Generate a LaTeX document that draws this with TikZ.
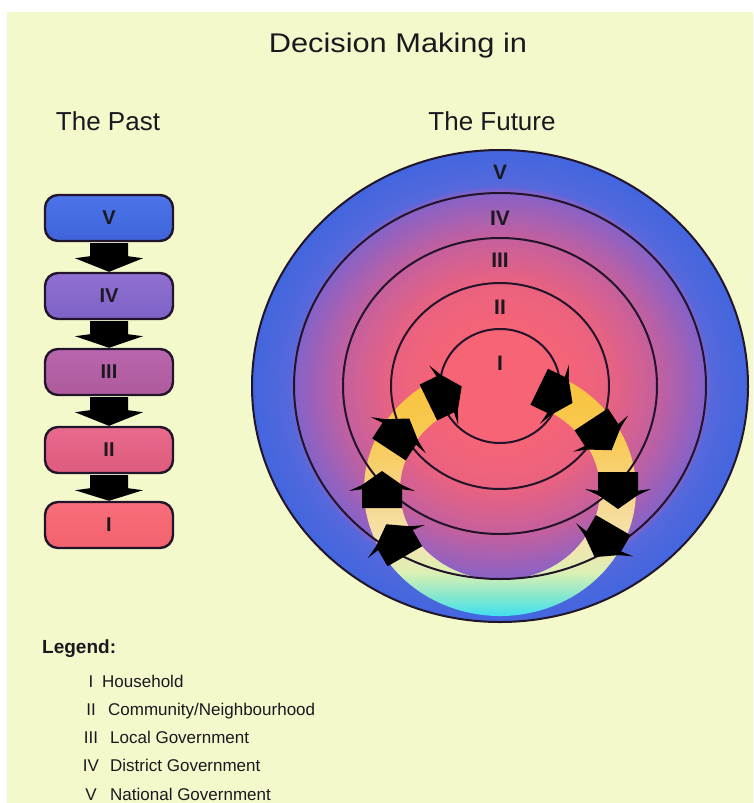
\documentclass[tikz,border=0pt]{standalone}
\usepackage{fontspec}
\setmainfont{Liberation Sans}
\usetikzlibrary{calc,positioning}
\definecolor{paper}{HTML}{F4F9CB}
\definecolor{ink}{HTML}{1C1820}
\definecolor{rim}{HTML}{22142A}
\definecolor{c1}{HTML}{F86474}
\definecolor{c2}{HTML}{F66476}
\definecolor{c3}{HTML}{EA6280}
\definecolor{c4}{HTML}{C4609E}
\definecolor{c5}{HTML}{8662C8}
\definecolor{c6}{HTML}{5668DC}
\definecolor{c7}{HTML}{4266DE}
\definecolor{yel}{HTML}{F8C23C}
\definecolor{yel2}{HTML}{F8CA54}
\definecolor{crm}{HTML}{F6D890}
\definecolor{crm2}{HTML}{F4E4B0}
\definecolor{lgr}{HTML}{DCF0B4}
\definecolor{aq}{HTML}{88E8CC}
\definecolor{cy}{HTML}{44E0EE}
\definecolor{bVa}{HTML}{4C74E8}\definecolor{bVb}{HTML}{3F64DA}
\definecolor{bIVa}{HTML}{9070D2}\definecolor{bIVb}{HTML}{7E62C6}
\definecolor{bIIIa}{HTML}{B866AE}\definecolor{bIIIb}{HTML}{AE5A9C}
\definecolor{bIIa}{HTML}{E86A8C}\definecolor{bIIb}{HTML}{DE5C7E}
\definecolor{bIa}{HTML}{F86E7A}\definecolor{bIb}{HTML}{F2626E}
\pgfdeclareradialshading{rings}{\pgfpoint{0bp}{0bp}}{color(0bp)=(c1); color(6bp)=(c2);
  color(11bp)=(c3); color(15.8bp)=(c4); color(20.6bp)=(c5); color(21.2bp)=(c6);
  color(25bp)=(c7); color(50bp)=(c7)}
\pgfdeclareverticalshading{bandgrad}{100bp}{color(0bp)=(cy); color(26bp)=(cy);
  color(29.8bp)=(aq); color(34.2bp)=(lgr); color(39.4bp)=(crm2); color(48.1bp)=(crm);
  color(59.6bp)=(yel2); color(71.2bp)=(yel); color(100bp)=(yel)}
\tikzset{hd/.style={font=\fontsize{26}{30}\selectfont,text=ink,inner sep=0pt},
  lvl/.style={rounded corners=13pt,draw=rim,line width=2.4pt,minimum width=128pt,
    minimum height=46pt,inner sep=0pt,font=\bfseries\fontsize{20}{20}\selectfont,text=ink},
  rl/.style={font=\bfseries\fontsize{21}{21}\selectfont,text=ink,inner sep=0pt},
  wire/.style={draw=rim,line width=2pt},
  lg/.style={font=\fontsize{17}{20}\selectfont,text=ink,inner sep=0pt}}

\begin{document}
\begin{tikzpicture}[x=1pt,y=-1pt]
\useasboundingbox (0,0) rectangle (753,803);
\fill[white] (0,0) rectangle (753,803);
\fill[paper] (7,12) rectangle (753,803);
\node[hd,anchor=base] (title) at (398,52) {\scalebox{1.14}[1]{\fontsize{27}{30}\selectfont Decision Making in}};
\node[hd,anchor=base] (past) at (108,130) {The Past};
\node[hd,anchor=base] (future) at (492,130) {The Future};
\foreach \n/\lab/\y/\ct/\cb in {5/V/218/bVa/bVb,4/IV/296/bIVa/bIVb,3/III/372/bIIIa/bIIIb,
  2/II/450/bIIa/bIIb,1/I/525/bIa/bIb}
  \node[lvl,top color=\ct,bottom color=\cb] (p\n) at (109,\y) {\lab};
\foreach \a/\b in {5/4,4/3,3/2,2/1}
  \fill[black] ($(p\a.south)+(-19,1)$) -- ++(38,0) -- ++(0,13) -- ++(15,2) -- (p\b.north)
    -- ($(p\a.south)+(-34,16)$) -- ++(15,-2) -- cycle;
\shade[shading=rings] (500,386) ellipse [x radius=248,y radius=236];
\begin{scope}
\clip ($(500,490)+(242:136 and 126)$) arc[start angle=242,end angle=-62,x radius=136,y radius=126]
  -- ($(500,490)+(-62:100 and 90)$) arc[start angle=-62,end angle=242,x radius=100,y radius=90] -- cycle;
\shade[shading=bandgrad] (360,360) rectangle (640,620);
\end{scope}
\foreach \rx/\ry in {60/57,109/103,157/148,206/193,248/236}
  \draw[wire] (500,386) ellipse [x radius=\rx,y radius=\ry];
\foreach \t in {152,180,211,242,298,329,360,388}{
  \pgfmathsetmacro{\ang}{atan2(-108*cos(\t),-118*sin(\t))}
  \begin{scope}[shift={($(500,490)+(\t:118 and 108)$)},rotate=\ang]
   \fill (-18,-20) -- (5,-20) -- (19,0) -- (5,20) -- (-18,20) -- cycle;
   \fill (6,-18) -- (-1,-33) -- (1,-18) -- cycle;
   \fill (6,18) -- (-1,33) -- (1,18) -- cycle;
  \end{scope}
}
\foreach \n/\lab/\y in {5/V/172,4/IV/218,3/III/260,2/II/307,1/I/363}
  \node[rl] (f\n) at (500,\y) {\lab};
\node[font=\bfseries\fontsize{19}{22}\selectfont,text=ink,inner sep=0pt,anchor=base west] (legend) at (42,653) {Legend:};
\foreach \i/\num/\txt/\tx in {0/I/Household/102,1/II/{Community/Neighbourhood}/108,
  2/III/Local Government/110,3/IV/District Government/110,4/V/National Government/110}{
  \node[lg,anchor=base] (ln\i) at (91,687+28.3*\i) {\num};
  \node[lg,anchor=base west] (lt\i) at (\tx,687+28.3*\i) {\txt};
}
\end{tikzpicture}
\end{document}
